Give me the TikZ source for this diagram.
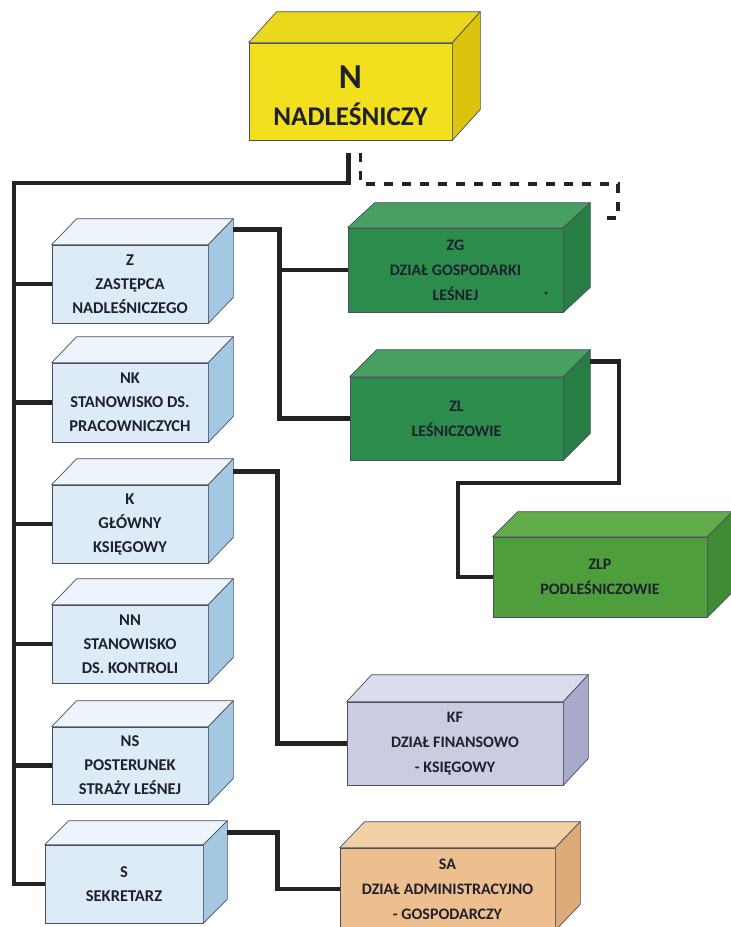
\documentclass[tikz,border=0pt]{standalone}
\usepackage{fontspec}
\setmainfont{Carlito}
\usetikzlibrary{calc}
\definecolor{txt}{HTML}{1E2030}
\definecolor{edge}{HTML}{4A5060}
\definecolor{bF}{HTML}{DDEBF6}\definecolor{bT}{HTML}{EDF4FB}\definecolor{bS}{HTML}{A4C8E2}
\definecolor{yF}{HTML}{F2E01E}\definecolor{yT}{HTML}{EAD81C}\definecolor{yS}{HTML}{DCC40E}
\definecolor{gF}{HTML}{2C8C4C}\definecolor{gT}{HTML}{47A062}\definecolor{gS}{HTML}{277D44}
\definecolor{lF}{HTML}{4F9E3C}\definecolor{lT}{HTML}{62AC4A}\definecolor{lS}{HTML}{3F8C34}
\definecolor{kF}{HTML}{CBCBE2}\definecolor{kT}{HTML}{DBDBEE}\definecolor{kS}{HTML}{A9A9C9}
\definecolor{sF}{HTML}{EDBE8E}\definecolor{sT}{HTML}{F3CFA5}\definecolor{sS}{HTML}{DDAA78}
\definecolor{lineK}{HTML}{222222}
\tikzset{
  face/.style={draw=edge, line width=0.7pt, line join=round},
  frontbox/.style={draw=edge, line width=0.7pt, inner sep=0pt, align=center, text=txt},
  smallbox/.style={frontbox, fill=bF, minimum width=156pt, minimum height=78pt,
    font=\fontsize{16.5}{24}\selectfont\bfseries},
  bigbox/.style={frontbox, minimum width=215pt, minimum height=83pt,
    font=\fontsize{16}{25}\selectfont\bfseries},
  conn/.style={draw=lineK, line width=4.5pt, line join=miter},
  dashline/.style={draw=lineK, line width=3.5pt, dash pattern=on 9pt off 9pt}
}
\newcommand\cubefaces[5]{%
  \filldraw[face, fill=#4] (#1.north west) -- ++(#2,-#3) -- ($(#1.north east)+(#2,-#3)$) -- (#1.north east) -- cycle;
  \filldraw[face, fill=#5] (#1.north east) -- ++(#2,-#3) -- ($(#1.south east)+(#2,-#3)$) -- (#1.south east) -- cycle;}
\begin{document}
\begin{tikzpicture}[x=1pt,y=-1pt]
\useasboundingbox (0,0) rectangle (731,927);
\clip (0,0) rectangle (731,927);

% top box
\node[frontbox, fill=yF, minimum width=203pt, minimum height=97pt] (N) at (350.5,91.5)
  {\raisebox{-4pt}[\height][\depth]{\fontsize{35}{35}\selectfont\bfseries N}\\[13pt]%
   \raisebox{-4pt}[\height][\depth]{\fontsize{27}{27}\selectfont\bfseries NADLEŚNICZY}};
\cubefaces{N}{28}{31}{yT}{yS}

% left column
\node[smallbox] (Z) at (130,284) {Z\\ZASTĘPCA\\NADLEŚNICZEGO};
\cubefaces{Z}{25}{26}{bT}{bS}
\node[smallbox, minimum height=79pt] (NK) at (130,402.5) {NK\\STANOWISKO DS.\\PRACOWNICZYCH};
\cubefaces{NK}{25}{26}{bT}{bS}
\node[smallbox] (K) at (130,524) {K\\GŁÓWNY\\KSIĘGOWY};
\cubefaces{K}{25}{26}{bT}{bS}
\node[smallbox] (NN) at (130,644) {NN\\STANOWISKO\\DS. KONTROLI};
\cubefaces{NN}{25}{26}{bT}{bS}
\node[smallbox, minimum height=77pt] (NS) at (130,765.5) {NS\\POSTERUNEK\\STRAŻY LEŚNEJ};
\cubefaces{NS}{25}{26}{bT}{bS}
\node[smallbox, minimum width=158pt] (S) at (124,884) {S\\SEKRETARZ};
\cubefaces{S}{24}{24}{bT}{bS}

% right column
\node[bigbox, fill=gF, minimum height=84pt] (ZG) at (455.5,270) {ZG\\DZIAŁ GOSPODARKI\\LEŚNEJ};
\cubefaces{ZG}{27}{25}{gT}{gS}
\fill[txt] (546,293) circle (1.6pt);
\node[bigbox, fill=gF, minimum width=213pt] (ZL) at (456.5,418.5) {ZL\\LEŚNICZOWIE};
\cubefaces{ZL}{27}{27}{gT}{gS}
\node[bigbox, fill=lF, minimum width=214pt, minimum height=80pt] (ZLP) at (600,577) {ZLP\\PODLEŚNICZOWIE};
\cubefaces{ZLP}{25}{25}{lT}{lS}
\node[bigbox, fill=kF, minimum width=216pt] (KF) at (455,743.5) {KF\\DZIAŁ FINANSOWO\\- KSIĘGOWY};
\cubefaces{KF}{25}{27}{kT}{kS}
\node[bigbox, fill=sF, minimum height=82pt] (SA) at (447.5,889) {SA\\DZIAŁ ADMINISTRACYJNO\\- GOSPODARCZY};
\cubefaces{SA}{25}{26}{sT}{sS}

% trunk
\coordinate (Ns) at ($(N.south)+(-2,13)$);
\coordinate (tk) at (14,183);
\draw[conn] (Ns) |- (tk) -- (tk |- S.west) -- (S.west);
\foreach \b in {Z,NK,K,NN,NS} \draw[conn] (tk |- \b.west) -- (\b.west);

% dashed
\coordinate (Nd) at ($(N.south)+(10,13)$);
\coordinate (dc) at (618,184);
\coordinate (dend) at (603,218);
\draw[dashline] (Nd) -- (Nd |- dc) -- (dc) |- (dend);

% right-hand connectors
\coordinate (Zr) at ($(Z.north east)+(25,-15)$);
\draw[conn] (Zr) -| ($(ZL.west)+(-70,0)$) -- (ZL.west);
\draw[conn] (ZG.west) -- ($(ZG.west)+(-68,0)$);
\coordinate (ZLr) at ($(ZL.north east)+(27,-15)$);
\coordinate (zl1) at (619,483);
\coordinate (zl2) at (458,483);
\draw[conn] (ZLr) -| (zl1) -- (zl2) |- (ZLP.west);
\coordinate (Kr) at ($(K.north east)+(25,-13)$);
\draw[conn] (Kr) -| ($(KF.west)+(-69,0)$) -- (KF.west);
\coordinate (Sr) at ($(S.north east)+(24,-12)$);
\draw[conn] (Sr) -| ($(SA.west)+(-62,0)$) -- (SA.west);
\end{tikzpicture}
\end{document}
